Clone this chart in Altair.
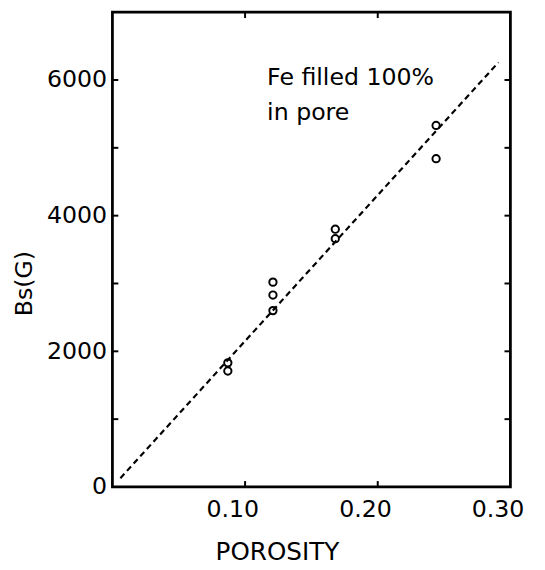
import altair as alt
import pandas as pd

# measured points
px = [0.087, 0.087, 0.121, 0.121, 0.121, 0.168, 0.168, 0.244, 0.244]
py = [1830, 1710, 3020, 2830, 2600, 3800, 3660, 5330, 4840]

# dashed reference line (Fe filled 100% in pore)
line_x = [0.006, 0.291]
line_y = [130, 6260]

x_tick_vals = [0.1, 0.2]
y_tick_vals = [1000, 2000, 3000, 4000, 5000, 6000]
x_label_vals = [0.1, 0.2, 0.3]
y_label_vals = [0, 2000, 4000, 6000]

W, H = 404, 482
FONT = "DejaVu Sans"

pts = pd.DataFrame({"x": px, "y": py})
ln = pd.DataFrame({"x": line_x, "y": line_y})
xt = pd.DataFrame({"x": x_tick_vals})
yt = pd.DataFrame({"y": y_tick_vals})

xscale = alt.Scale(domain=[0, 0.3], nice=False, zero=False)
yscale = alt.Scale(domain=[0, 7000], nice=False)

xaxis = alt.Axis(values=x_label_vals, format=".2f", ticks=False, domain=False, grid=False,
                 labelFontSize=24, labelFont=FONT, labelColor="black", labelPadding=11,
                 labelOffset=-13, labelFlush=False, labelOverlap=False,
                 title="POROSITY", titleFont=FONT, titleFontSize=25, titleFontWeight="normal",
                 titleColor="black", titleX=167, titleY=66, titleAlign="center",
                 titleBaseline="middle", titleAnchor="start")
yaxis = alt.Axis(values=y_label_vals, format="d", ticks=False, domain=False, grid=False,
                 labelFontSize=24, labelFont=FONT, labelColor="black", labelPadding=6,
                 labelFlush=False, labelOverlap=False,
                 title="Bs(G)", titleFont=FONT, titleFontSize=24, titleFontWeight="normal",
                 titleColor="black", titleX=-89, titleY=275, titleAlign="center",
                 titleBaseline="middle", titleAngle=-90, titleAnchor="start")

line = alt.Chart(ln).mark_line(color="black", strokeDash=[6, 4], strokeWidth=2.2).encode(
    x=alt.X("x:Q", scale=xscale, axis=xaxis),
    y=alt.Y("y:Q", scale=yscale, axis=yaxis),
)

points = alt.Chart(pts).mark_point(shape="circle", filled=False, color="black",
                                   size=55, strokeWidth=2, opacity=1).encode(
    x=alt.X("x:Q", scale=xscale),
    y=alt.Y("y:Q", scale=yscale),
)

tb = alt.Chart(xt).mark_rule(color="black", strokeWidth=2).encode(
    x=alt.X("x:Q", scale=xscale), y=alt.value(H), y2=alt.value(H - 6))
tt = alt.Chart(xt).mark_rule(color="black", strokeWidth=2).encode(
    x=alt.X("x:Q", scale=xscale), y=alt.value(0), y2=alt.value(6))
tl = alt.Chart(yt).mark_rule(color="black", strokeWidth=2).encode(
    y=alt.Y("y:Q", scale=yscale), x=alt.value(0), x2=alt.value(6))
tr = alt.Chart(yt).mark_rule(color="black", strokeWidth=2).encode(
    y=alt.Y("y:Q", scale=yscale), x=alt.value(W), x2=alt.value(W - 6))

ann1 = alt.Chart(pd.DataFrame({"t": ["Fe filled 100%"]})).mark_text(
    align="left", baseline="middle", font=FONT, fontSize=24, color="black").encode(
    text="t:N", x=alt.value(157), y=alt.value(67))
ann2 = alt.Chart(pd.DataFrame({"t": ["in pore"]})).mark_text(
    align="left", baseline="middle", font=FONT, fontSize=24, color="black").encode(
    text="t:N", x=alt.value(157), y=alt.value(102))

chart = alt.layer(line, points, tb, tt, tl, tr, ann1, ann2).properties(
    width=W, height=H,
    autosize=alt.AutoSizeParams(type="none"),
    padding={"left": 106, "top": 0, "right": 27, "bottom": 77},
    background="white",
).configure_view(stroke="black", strokeWidth=2.8)

chart.save("out.html", embed_options={"renderer": "svg", "actions": False})
